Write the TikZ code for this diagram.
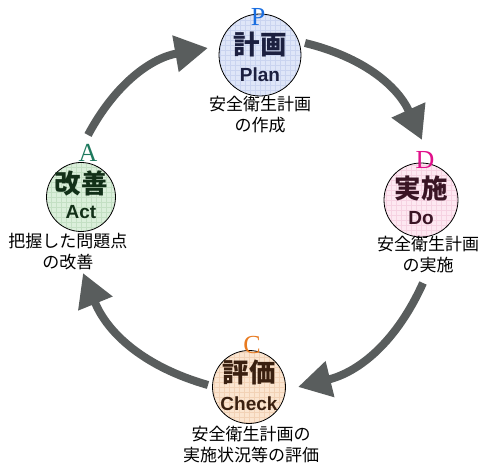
\documentclass[tikz,border=0pt]{standalone}
\usepackage{fontspec}
\setmainfont{Liberation Sans}
\newfontfamily\jp{Noto Sans CJK JP}
\newfontfamily\lat{Liberation Sans}
\newfontfamily\ser{Liberation Serif}
\usetikzlibrary{arrows.meta}
\definecolor{arr}{HTML}{595D5D}
\definecolor{planfill}{HTML}{DFE6F8}
\definecolor{plangrid}{HTML}{CAD4F0}
\definecolor{dofill}{HTML}{FDE8F1}
\definecolor{dogrid}{HTML}{F6D2E2}
\definecolor{actfill}{HTML}{DBEFDB}
\definecolor{actgrid}{HTML}{C4E0C4}
\definecolor{checkfill}{HTML}{FBE5D0}
\definecolor{checkgrid}{HTML}{F2D2B6}
\definecolor{planink}{HTML}{1C2040}
\definecolor{doink}{HTML}{3A1525}
\definecolor{actink}{HTML}{123018}
\definecolor{checkink}{HTML}{3A2010}
\definecolor{pcol}{HTML}{1A6EE0}
\definecolor{dcol}{HTML}{E0108A}
\definecolor{acol}{HTML}{1E7A5E}
\definecolor{ccol}{HTML}{E87A20}
\tikzset{
  phase/.style n args={2}{circle, draw=black, line width=0.8pt, fill=#1,
    path picture={\draw[#2, line width=0.4pt]
      (path picture bounding box.south west) grid[step=5pt]
      (path picture bounding box.north east);}},
  letter/.style={font=\ser\fontsize{26}{26}\selectfont, inner sep=0pt},
  kanji/.style={font=\jp\bfseries\fontsize{26.5}{26.5}\selectfont, inner sep=0pt},
  eng/.style={font=\lat\bfseries\fontsize{19}{19}\selectfont, inner sep=0pt},
  desc/.style={font=\jp\fontsize{17}{21}\selectfont, align=center, inner sep=0pt},
  cyc/.style={draw=arr, line width=8pt, -{Triangle[width=35pt,length=33pt]}, bend left=26}
}
\begin{document}
\begin{tikzpicture}[x=1pt,y=1pt]
\useasboundingbox (0,0) rectangle (488,463);
% circles
\node[phase={planfill}{plangrid}, minimum size=82pt] (plan) at (260,408) {};
\node[phase={dofill}{dogrid}, minimum size=74pt] (do) at (421,263) {};
\node[phase={actfill}{actgrid}, minimum size=69pt] (act) at (81,266) {};
\node[phase={checkfill}{checkgrid}, minimum size=73pt] (check) at (249,76) {};
% letters
\node[letter, text=pcol] (pl) at (258,446) {P};
\node[letter, text=dcol] (dl) at (425,303) {D};
\node[letter, text=acol] (al) at (88,310) {A};
\node[letter, text=ccol] (cl) at (252,118) {C};
% inner text
\node[kanji, text=planink] (pk) at (260,418) {計画};
\node[eng, text=planink] (pe) at (260,388) {Plan};
\node[kanji, text=doink] (dk) at (421,275) {実施};
\node[eng, text=doink] (de) at (421,245) {Do};
\node[kanji, text=actink] (ak) at (81,280) {改善};
\node[eng, text=actink] (ae) at (81,251) {Act};
\node[kanji, text=checkink] (ck) at (249,91) {評価};
\node[eng, text=checkink] (ce) at (249,59) {Check};
% descriptions
\node[desc] (pd) at (260,348) {安全衛生計画\\の作成};
\node[desc] (dd) at (428,208) {安全衛生計画\\の実施};
\node[desc] (ad) at (68,211) {把握した問題点\\の改善};
\node[desc] (cd) at (251,18) {安全衛生計画の\\実施状況等の評価};
% arrow ends
\coordinate (a1s) at (305,420); \coordinate (a1e) at (422,323);
\coordinate (a2s) at (423,180); \coordinate (a2e) at (298,76);
\coordinate (a3s) at (208,78);  \coordinate (a3e) at (83,190);
\coordinate (a4s) at (88,328);  \coordinate (a4e) at (208,415);
\draw[cyc] (a1s) to (a1e);
\draw[cyc] (a2s) to (a2e);
\draw[cyc] (a3s) to (a3e);
\draw[cyc] (a4s) to (a4e);
\end{tikzpicture}
\end{document}
